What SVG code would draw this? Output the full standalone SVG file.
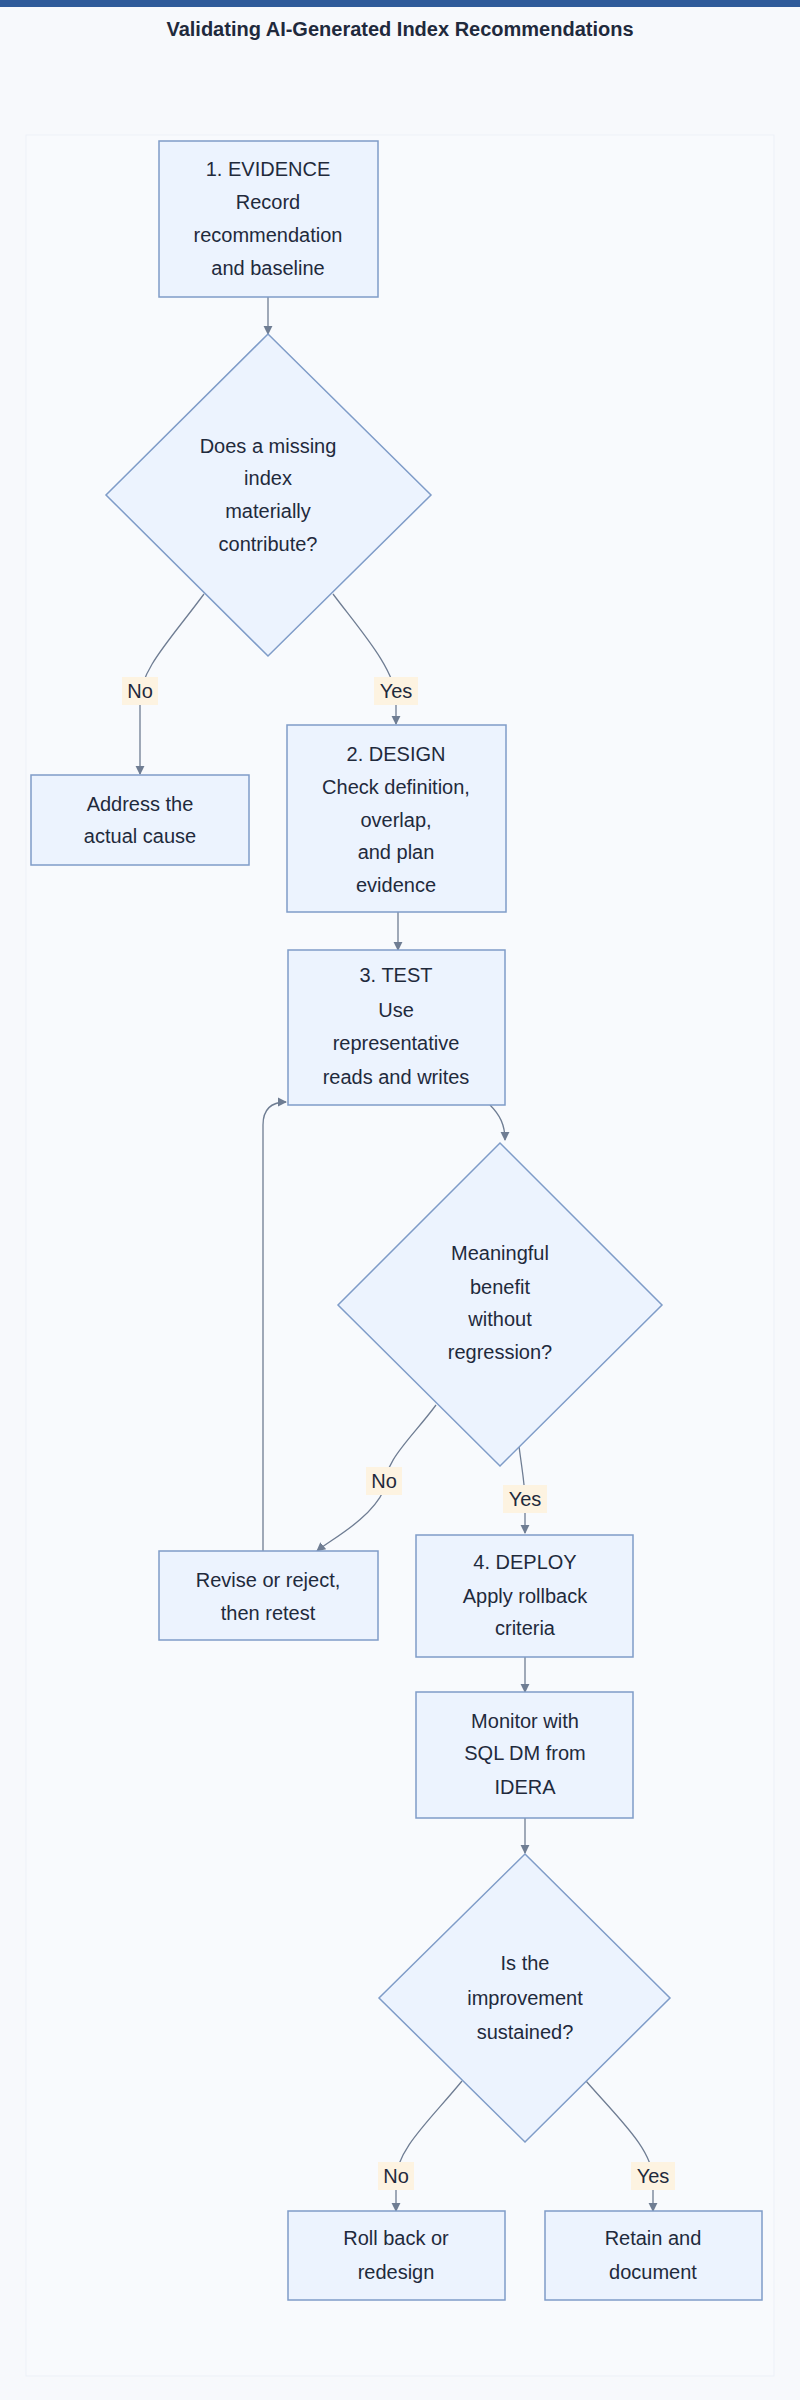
<svg xmlns="http://www.w3.org/2000/svg" width="800" height="2400" viewBox="0 0 800 2400">
<style>
.n{fill:#ecf3fe;stroke:#7f9cc8;stroke-width:1.5}
.t{font-family:"Liberation Sans",Arial,sans-serif;font-size:20px;fill:#1f2a3c;text-anchor:middle}
.e{fill:none;stroke:#6f7d93;stroke-width:1.3;marker-end:url(#a)}
.lb{fill:#fdf3e1}
</style>
<defs><marker id="a" viewBox="0 0 10 10" refX="9" refY="5" markerWidth="7" markerHeight="7" orient="auto"><path d="M0,0L10,5L0,10z" fill="#6f7d93"/></marker></defs>
<rect width="800" height="2400" fill="#f7f9fc"/>
<rect width="800" height="7" fill="#2f5b9a"/>
<text x="400" y="36" class="t" style="font-weight:bold;font-size:20px">Validating AI-Generated Index Recommendations</text>
<rect x="26" y="135" width="748" height="2241" fill="#f8fafd" stroke="#edf1f7"/>
<g id="edges">
<path class="e" d="M268,297V334"/>
<path class="e" d="M204,594C170,640 140,670 140,700V774"/>
<path class="e" d="M333,594C360,630 396,670 396,700V724"/>
<path class="e" d="M398,912V950"/>
<path class="e" d="M490,1105C500,1115 505,1125 505,1140"/>
<path class="e" d="M436,1405C410,1440 384,1460 384,1490C370,1520 330,1540 317,1551"/>
<path class="e" d="M263,1551V1125Q263,1102 286,1102"/>
<path class="e" d="M519,1446C522,1470 525,1485 525,1500V1533"/>
<path class="e" d="M525,1657V1692"/>
<path class="e" d="M525,1818V1853"/>
<path class="e" d="M462,2081C430,2120 396,2150 396,2180V2211"/>
<path class="e" d="M586,2081C620,2120 653,2150 653,2180V2211"/>
</g>
<g id="labels">
<rect class="lb" x="122" y="677" width="36" height="28"/><text class="t" x="140" y="698">No</text>
<rect class="lb" x="374" y="677" width="44" height="28"/><text class="t" x="396" y="698">Yes</text>
<rect class="lb" x="366" y="1467" width="36" height="28"/><text class="t" x="384" y="1488">No</text>
<rect class="lb" x="503" y="1485" width="44" height="28"/><text class="t" x="525" y="1506">Yes</text>
<rect class="lb" x="378" y="2162" width="36" height="28"/><text class="t" x="396" y="2183">No</text>
<rect class="lb" x="631" y="2162" width="44" height="28"/><text class="t" x="653" y="2183">Yes</text>
</g>
<g id="n1"><rect class="n" x="159" y="141" width="219" height="156"/><text class="t" x="268" y="176">1. EVIDENCE</text><text class="t" x="268" y="209">Record</text><text class="t" x="268" y="242">recommendation</text><text class="t" x="268" y="275">and baseline</text></g>
<g id="d1"><path class="n" d="M268,334L431,495L268,656L106,495z"/><text class="t" x="268" y="453">Does a missing</text><text class="t" x="268" y="485">index</text><text class="t" x="268" y="518">materially</text><text class="t" x="268" y="551">contribute?</text></g>
<g id="n2"><rect class="n" x="31" y="775" width="218" height="90"/><text class="t" x="140" y="811">Address the</text><text class="t" x="140" y="843">actual cause</text></g>
<g id="n3"><rect class="n" x="287" y="725" width="219" height="187"/><text class="t" x="396" y="761">2. DESIGN</text><text class="t" x="396" y="794">Check definition,</text><text class="t" x="396" y="827">overlap,</text><text class="t" x="396" y="859">and plan</text><text class="t" x="396" y="892">evidence</text></g>
<g id="n4"><rect class="n" x="288" y="950" width="217" height="155"/><text class="t" x="396" y="982">3. TEST</text><text class="t" x="396" y="1017">Use</text><text class="t" x="396" y="1050">representative</text><text class="t" x="396" y="1084">reads and writes</text></g>
<g id="d2"><path class="n" d="M500,1143L662,1305L500,1466L338,1305z"/><text class="t" x="500" y="1260">Meaningful</text><text class="t" x="500" y="1294">benefit</text><text class="t" x="500" y="1326">without</text><text class="t" x="500" y="1359">regression?</text></g>
<g id="n5"><rect class="n" x="159" y="1551" width="219" height="89"/><text class="t" x="268" y="1587">Revise or reject,</text><text class="t" x="268" y="1620">then retest</text></g>
<g id="n6"><rect class="n" x="416" y="1535" width="217" height="122"/><text class="t" x="525" y="1569">4. DEPLOY</text><text class="t" x="525" y="1603">Apply rollback</text><text class="t" x="525" y="1635">criteria</text></g>
<g id="n7"><rect class="n" x="416" y="1692" width="217" height="126"/><text class="t" x="525" y="1728">Monitor with</text><text class="t" x="525" y="1760">SQL DM from</text><text class="t" x="525" y="1794">IDERA</text></g>
<g id="d3"><path class="n" d="M525,1854L670,1998L525,2142L379,1998z"/><text class="t" x="525" y="1970">Is the</text><text class="t" x="525" y="2005">improvement</text><text class="t" x="525" y="2039">sustained?</text></g>
<g id="n8"><rect class="n" x="288" y="2211" width="217" height="89"/><text class="t" x="396" y="2245">Roll back or</text><text class="t" x="396" y="2279">redesign</text></g>
<g id="n9"><rect class="n" x="545" y="2211" width="217" height="89"/><text class="t" x="653" y="2245">Retain and</text><text class="t" x="653" y="2279">document</text></g>
</svg>
